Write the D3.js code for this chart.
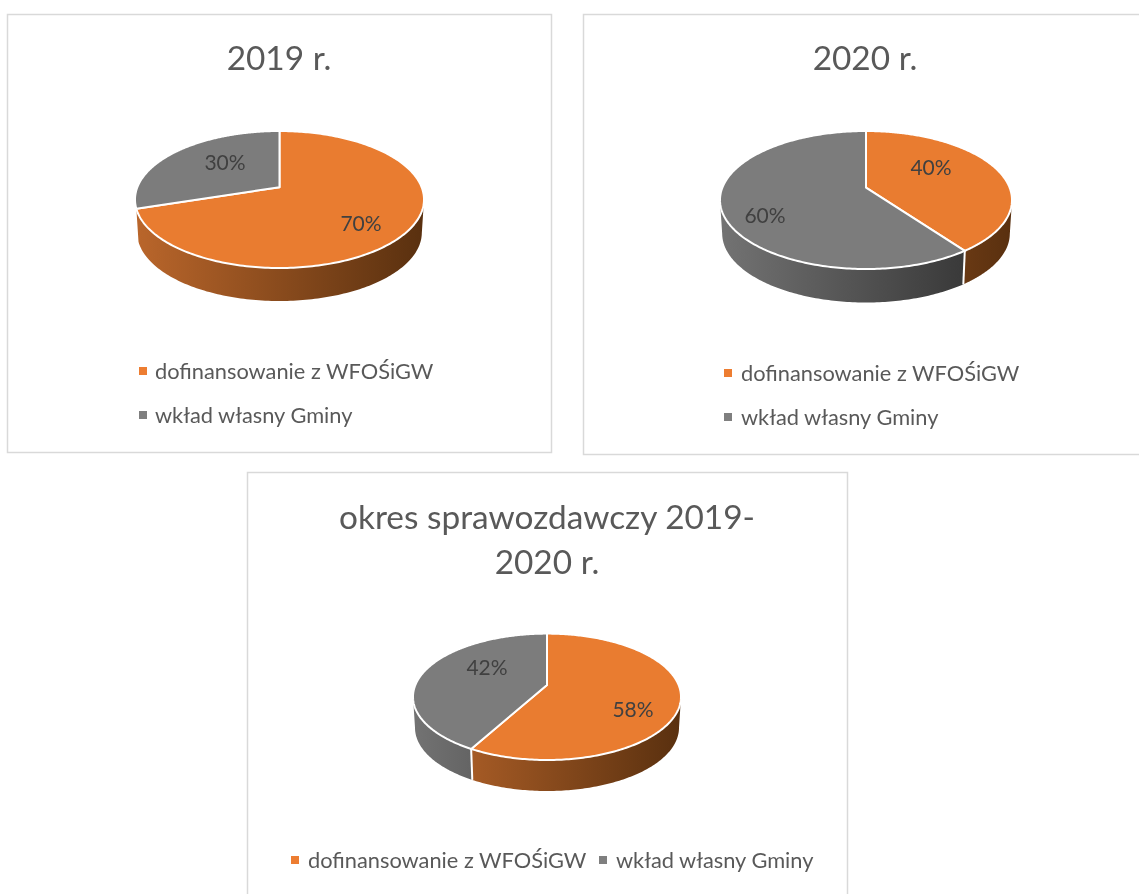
<!DOCTYPE html>
<html><head><meta charset="utf-8">
<script src="https://cdn.jsdelivr.net/npm/d3@7"></script>
<style>html,body{margin:0;padding:0;background:#fff}svg{display:block;filter:blur(.45px)}text{font-family:Lato,"Open Sans",sans-serif}</style>
</head><body>
<svg id="c" width="1139" height="894"></svg>
<script>
const categories = ["dofinansowanie z WFOŚiGW", "wkład własny Gminy"];
const titles2019 = ["2019 r."];
const titles2020 = ["2020 r."];
const titlesPeriod = ["okres sprawozdawczy 2019-", "2020 r."];
const values2019 = [70, 30];
const values2020 = [40, 60];
const valuesPeriod = [58, 42];

const topColors = ["#E97C30", "#7C7C7C"];
const wallRamps = [["#BA662B", "#59300F"], ["#737373", "#2E2E2E"]];

const layouts = [
  {values: values2019, titles: titles2019, box: [7,14,551,452], cx: 279.5, cy: 199.5, rx: 144.5, ry: 68.5, depth: 33, tilt: .18,
   titleX: 279, titleY: [70], labels: [[361,223],[225,162]],
   legend: [[139,155,379],[139,155,423]]},
  {values: values2020, titles: titles2020, box: [583,14,1145,454], cx: 866, cy: 200, rx: 146, ry: 69, depth: 33.5, tilt: .18,
   titleX: 865, titleY: [70], labels: [[931,167],[765,215]],
   legend: [[724,741,381],[724,741,425]]},
  {values: valuesPeriod, titles: titlesPeriod, box: [247,472,847,900], cx: 547, cy: 696.8, rx: 134, ry: 63.2, depth: 31, tilt: .187,
   titleX: 547, titleY: [529,574], labels: [[633,709],[487,667]],
   legend: [[291,308,868],[599,616,868]]}
];

const svg = d3.select("#c");
const defs = svg.append("defs");
const pie = d3.pie().sort(null).value(d => d);

layouts.forEach((L, li) => {
  const g = svg.append("g");
  const [x0,y0,x1,y1] = L.box;
  g.append("rect").attr("x",x0+.5).attr("y",y0+.5).attr("width",x1-x0).attr("height",y1-y0)
    .attr("fill","#fff").attr("stroke","#D9D9D9").attr("stroke-width",1.5);

  L.titles.forEach((t,i) => g.append("text").text(t).attr("x",L.titleX).attr("y",L.titleY[i])
    .attr("text-anchor","middle").attr("font-size",33.4).attr("fill","#595959"));

  const sx = d3.scaleLinear().domain([-1,1]).range([L.cx-L.rx, L.cx+L.rx]);
  const sy = d3.scaleLinear().domain([-1,1]).range([L.cy+L.ry, L.cy-L.ry]);
  const k = Math.sqrt(1-L.tilt*L.tilt);
  // tilted disc: clockwise angle from the top, radius r
  const proj = (a,r=1) => {
    const u = r*Math.sin(a), v = r*Math.cos(a), w = 1+L.tilt*v;
    return [u*k/w, (v+L.tilt)/w];
  };
  const line = d3.line();
  const shrink = .985;
  const topPt = n => [sx(n[0]), sy(n[1])];
  const botPt = n => [L.cx+(sx(n[0])-L.cx)*shrink, sy(n[1])+L.depth];

  const arcs = pie(L.values);
  const ramp = (i) => {
    const id = `w${li}_${i}`;
    const gr = defs.append("linearGradient").attr("id",id).attr("gradientUnits","userSpaceOnUse")
      .attr("x1",L.cx-L.rx).attr("x2",L.cx+L.rx).attr("y1",0).attr("y2",0);
    gr.append("stop").attr("offset",0).attr("stop-color",wallRamps[i][0]);
    gr.append("stop").attr("offset",1).attr("stop-color",wallRamps[i][1]);
    return `url(#${id})`;
  };
  // walls: only the part of each slice on the near half, hairline slivers dropped
  const wallShown = arcs.map((d,i) => {
    const N = 240, pts = d3.range(N+1).map(j => proj(d.startAngle+(d.endAngle-d.startAngle)*j/N)).filter(p => p[1] <= 0.001);
    if (pts.length < 2) return false;
    const ext = d3.extent(pts, p => sx(p[0]));
    if (ext[1]-ext[0] < 4) return false;
    const poly = pts.map(topPt).concat(pts.slice().reverse().map(botPt));
    g.append("path").attr("d",line(poly)+"Z").attr("fill",ramp(i));
    return true;
  });
  // wall dividers on the near half
  arcs.forEach((d,i) => {
    const p = proj(d.startAngle);
    if (wallShown[i] && p[1] < -0.01) g.append("path").attr("d",line([topPt(p),botPt(p)]))
      .attr("stroke","#fff").attr("stroke-width",2).attr("fill","none");
  });
  // top faces
  arcs.forEach((d,i) => {
    const N = 240, rim = d3.range(N+1).map(j => topPt(proj(d.startAngle+(d.endAngle-d.startAngle)*j/N)));
    g.append("path").attr("d",line([topPt(proj(0,0))].concat(rim))+"Z")
      .attr("fill",topColors[i]).attr("stroke","#fff").attr("stroke-width",2).attr("stroke-linejoin","round");
  });
  // data labels
  arcs.forEach((d,i) => g.append("text").text(d.value+"%").attr("x",L.labels[i][0]).attr("y",L.labels[i][1]+7.5)
    .attr("text-anchor","middle").attr("font-size",21).attr("fill","#404040"));
  // legend
  categories.forEach((c,i) => {
    const [mx,tx,by] = L.legend[i];
    g.append("rect").attr("x",mx).attr("y",by-12).attr("width",8).attr("height",8).attr("fill",i?"#7F7F7F":"#ED7D31");
    g.append("text").text(c).attr("x",tx).attr("y",by).attr("font-size",21.8).attr("fill","#595959");
  });
});
</script>
</body></html>
